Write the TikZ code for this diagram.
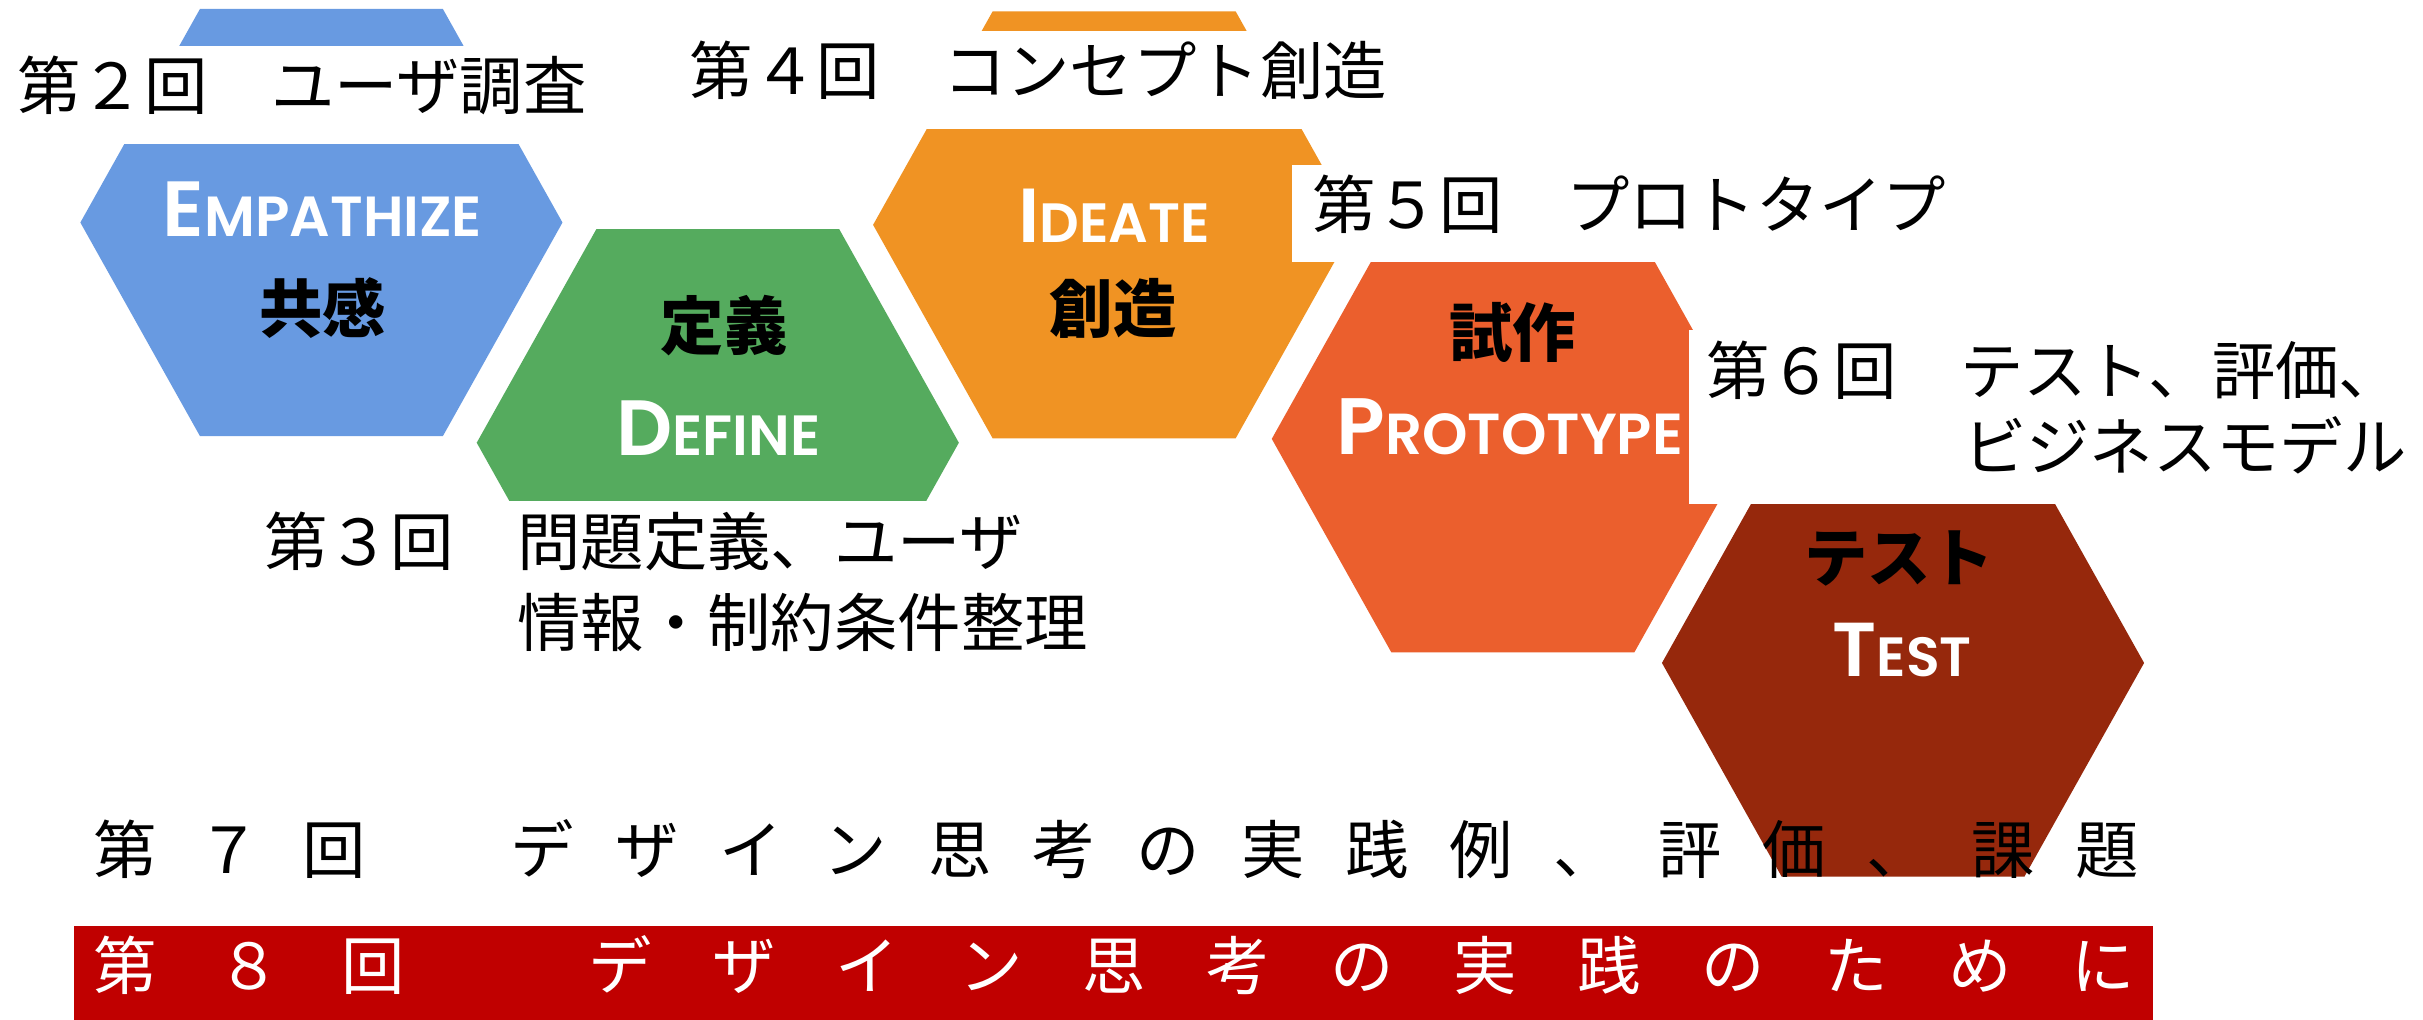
\documentclass[tikz,border=0pt]{standalone}
\usepackage{fontspec}
\usepackage{graphicx}
\setmainfont{Noto Sans CJK JP}
\newfontfamily\jpfont{Noto Sans CJK JP}
\IfFontExistsTF{Poppins SemiBold}
  {\newfontfamily\popfont{Poppins SemiBold}\newcommand\popweight{}}
  {\newfontfamily\popfont{Poppins}\newcommand\popweight{\bfseries}}
\definecolor{cblue}{RGB}{104,154,225}
\definecolor{cgreen}{RGB}{85,171,94}
\definecolor{corange}{RGB}{240,147,35}
\definecolor{cproto}{RGB}{235,95,45}
\definecolor{ctest}{RGB}{150,40,12}
\definecolor{cband}{RGB}{192,0,0}
\newcommand\smc[2]{{\fontsize{23.5pt}{28pt}\selectfont #1}{\fontsize{17pt}{20pt}\selectfont #2}}
\tikzset{
  ann/.style={anchor=base west, inner sep=0pt, font=\jpfont\fontsize{20.5pt}{24pt}\selectfont},
  jplabel/.style={anchor=base, inner sep=0pt, font=\jpfont\bfseries\fontsize{20.5pt}{24pt}\selectfont},
  englabel/.style={anchor=base, inner sep=0pt, text=white, font=\popfont\popweight},
  rowchar/.style={anchor=base west, inner sep=0pt, font=\jpfont\fontsize{20.5pt}{24pt}\selectfont}
}
\begin{document}
\begin{tikzpicture}[x=0.5pt,y=-0.5pt]
\useasboundingbox (0,0) rectangle (1568,660);
\fill[white] (0,0) rectangle (1568,660);
% hexagons
\foreach \cx/\cy/\col in {208/144/cblue, 464.5/286.5/cgreen, 721/145.5/corange, 979/284/cproto, 1231.5/429/ctest}
  \fill[\col] ({\cx-78.6},{\cy-138.2}) -- ({\cx+78.6},{\cy-138.2}) -- ({\cx+156},\cy)
     -- ({\cx+78.6},{\cy+138.2}) -- ({\cx-78.6},{\cy+138.2}) -- ({\cx-156},\cy) -- cycle;
% white boxes behind annotations
\fill[white] (0,29.8) rectangle (400,93.2);
\fill[white] (160,324.5) rectangle (720,432);
\fill[white] (440,19.9) rectangle (905,83.7);
\fill[white] (836.2,106.5) rectangle (1270,169.5);
\fill[white] (1093,213.6) rectangle (1568,326);
% bottom band
\fill[cband] (48,599.5) rectangle (1393,660);
% annotations
\node[ann] (t2) at (11,71) {第２回　ユーザ調査};
\node[ann] (t3a) at (170.5,366) {第３回　問題定義、ユーザ};
\node[ann] (t3b) at (334.5,418.5) {情報・制約条件整理};
\node[ann] (t4) at (446,61.4) {第４回　コンセプト創造};
\node[ann] (t5) at (849,148) {第５回　プロトタイプ};
\node[ann] (t6a) at (1104,255.6) {第６回　テスト、評価、};
\node[ann] (t6b) at (1270,304.6) {ビジネスモデル};
% Japanese labels
\node[jplabel] (jEmp) at (209,215) {共感};
\node[jplabel] (jDef) at (468.6,226) {定義};
\node[jplabel] (jIde) at (720.3,215) {創造};
\node[jplabel] (jPro) at (979,230.6) {試作};
\node[jplabel] (jTes) at (1229,376.6) {テスト};
% English labels
\node[englabel] (eEmp) at (208.7,153) {\resizebox{103.25pt}{!}{\smc{E}{MPATHIZE}}};
\node[englabel] (eDef) at (465,294.5) {\resizebox{66pt}{!}{\smc{D}{EFINE}}};
\node[englabel] (eIde) at (721,156.6) {\resizebox{62pt}{!}{\smc{I}{DEATE}}};
\node[englabel] (ePro) at (977,294) {\resizebox{112pt}{!}{\smc{P}{ROTOTYPE}}};
\node[englabel] (eTes) at (1231,438) {\resizebox{45pt}{!}{\smc{T}{EST}}};
% row 7
\foreach \c [count=\i from 0] in {第,７,回,　,デ,ザ,イ,ン,思,考,の,実,践,例,、,評,価,、,課,題}
  \node[rowchar] (r7-\i) at ({60.2+\i*67.5},565) {\c};
% row 8
\foreach \c [count=\i from 0] in {第,８,回,　,デ,ザ,イ,ン,思,考,の,実,践,の,た,め,に}
  \node[rowchar, text=white] (r8-\i) at ({60.4+\i*80},640.6) {\c};
\end{tikzpicture}
\end{document}
